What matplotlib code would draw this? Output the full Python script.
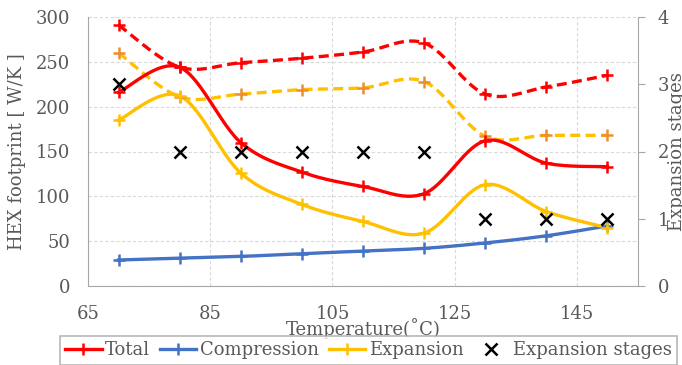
import numpy as np
import matplotlib
matplotlib.use('Agg')
import matplotlib.pyplot as plt
from matplotlib.lines import Line2D

plt.rcParams['font.family'] = ['DejaVu Serif']
plt.rcParams['font.size'] = 13

temps = [70, 80, 90, 100, 110, 120, 130, 140, 150]
total = [216, 244, 160, 127, 111, 103, 162, 137, 133]
compression = [29, 31, 33, 36, 39, 42, 48, 56, 67]
expansion = [185, 212, 126, 91, 72, 59, 113, 83, 65]
total_alt = [291, 244, 249, 254, 261, 271, 214, 222, 235]
expansion_alt = [260, 211, 214, 219, 221, 228, 167, 168, 168]
stages = [3, 2, 2, 2, 2, 2, 1, 1, 1]

RED = '#FF0000'
BLUE = '#4472C4'
GOLD = '#FFC000'
GRAY = '#A6A6A6'
TXT = '#595959'


def smooth(x, y, n=30):
    """Bezier smoothing between points, like spreadsheet 'smoothed line'."""
    p = np.column_stack([x, y]).astype(float)
    p = np.vstack([p[0], p, p[-1]])
    t = np.linspace(0, 1, n)[:, None]
    out = []
    for i in range(1, len(p) - 2):
        a, b = p[i], p[i + 1]
        c1 = a + (b - p[i - 1]) / 6
        c2 = b - (p[i + 2] - a) / 6
        seg = ((1 - t) ** 3) * a + 3 * ((1 - t) ** 2) * t * c1 \
            + 3 * (1 - t) * t ** 2 * c2 + t ** 3 * b
        out.append(seg if i == 1 else seg[1:])
    out = np.vstack(out)
    return out[:, 0], out[:, 1]


fig = plt.figure(figsize=(6.82, 3.65), dpi=100)
ax = fig.add_axes([88 / 682, 1 - 286 / 365, 550 / 682, 269 / 365])

def draw(y, color, ls='-', mcolor=None):
    sx, sy = smooth(temps, y)
    ax.plot(sx, sy, color=color, lw=2.4, ls=ls, zorder=3,
            dashes=(3, 1.6) if ls == '--' else (None, None))
    ax.plot(temps, y, ls='none', marker='+', ms=8, mew=1.8,
            color=mcolor or color, zorder=4)

draw(total_alt, RED, '--')
draw(expansion_alt, GOLD, '--', '#ED8E2E')
draw(total, RED)
draw(compression, BLUE)
draw(expansion, GOLD)

ax.set_xlim(65, 155)
ax.set_ylim(0, 300)
ax.set_xticks([65, 85, 105, 125, 145])
ax.set_yticks(range(0, 301, 50))
ax.grid(True, color='#D9D9D9', ls=(0, (3, 2)), lw=0.8)
ax.tick_params(length=0, colors=TXT)
ax.tick_params(axis='x', pad=14)
ax.tick_params(axis='y', pad=13)
for s in ['top', 'right']:
    ax.spines[s].set_visible(False)
for s in ['left', 'bottom']:
    ax.spines[s].set_color(GRAY)
ax.set_ylabel('HEX footprint [ W/K ]', color=TXT, labelpad=7)
ax.set_xlabel('Temperature(˚C)', color=TXT, labelpad=-4)

ax2 = ax.twinx()
ax2.plot(temps, stages, ls='none', marker='x', ms=9, mew=1.8,
         color='black', zorder=5)
ax2.set_ylim(0, 4)
ax2.set_yticks(range(0, 5))
ax2.tick_params(length=5, color=GRAY, colors=TXT, pad=9)
for s in ['top', 'left', 'bottom']:
    ax2.spines[s].set_visible(False)
ax2.spines['right'].set_color(GRAY)
ax2.set_ylabel('Expansion stages', color=TXT, labelpad=-1)

handles = [
    Line2D([], [], color=RED, lw=2.4, marker='+', ms=8, mew=1.8),
    Line2D([], [], color=BLUE, lw=2.4, marker='+', ms=8, mew=1.8),
    Line2D([], [], color=GOLD, lw=2.4, marker='+', ms=8, mew=1.8),
    Line2D([], [], color='black', ls='none', marker='x', ms=9, mew=1.8),
]
labels = ['Total', 'Compression', 'Expansion', 'Expansion stages']
leg = fig.legend(handles, labels, ncol=4, loc='upper left',
                 bbox_to_anchor=(60 / 682, 1 - 336 / 365),
                 frameon=True, fancybox=False, handlelength=2.0,
                 handletextpad=0.2, columnspacing=0.55, borderpad=0.3,
                 borderaxespad=0, labelcolor=TXT)
leg.get_frame().set_edgecolor(GRAY)
leg.get_frame().set_linewidth(1.2)

fig.savefig('out.png', dpi=100)
